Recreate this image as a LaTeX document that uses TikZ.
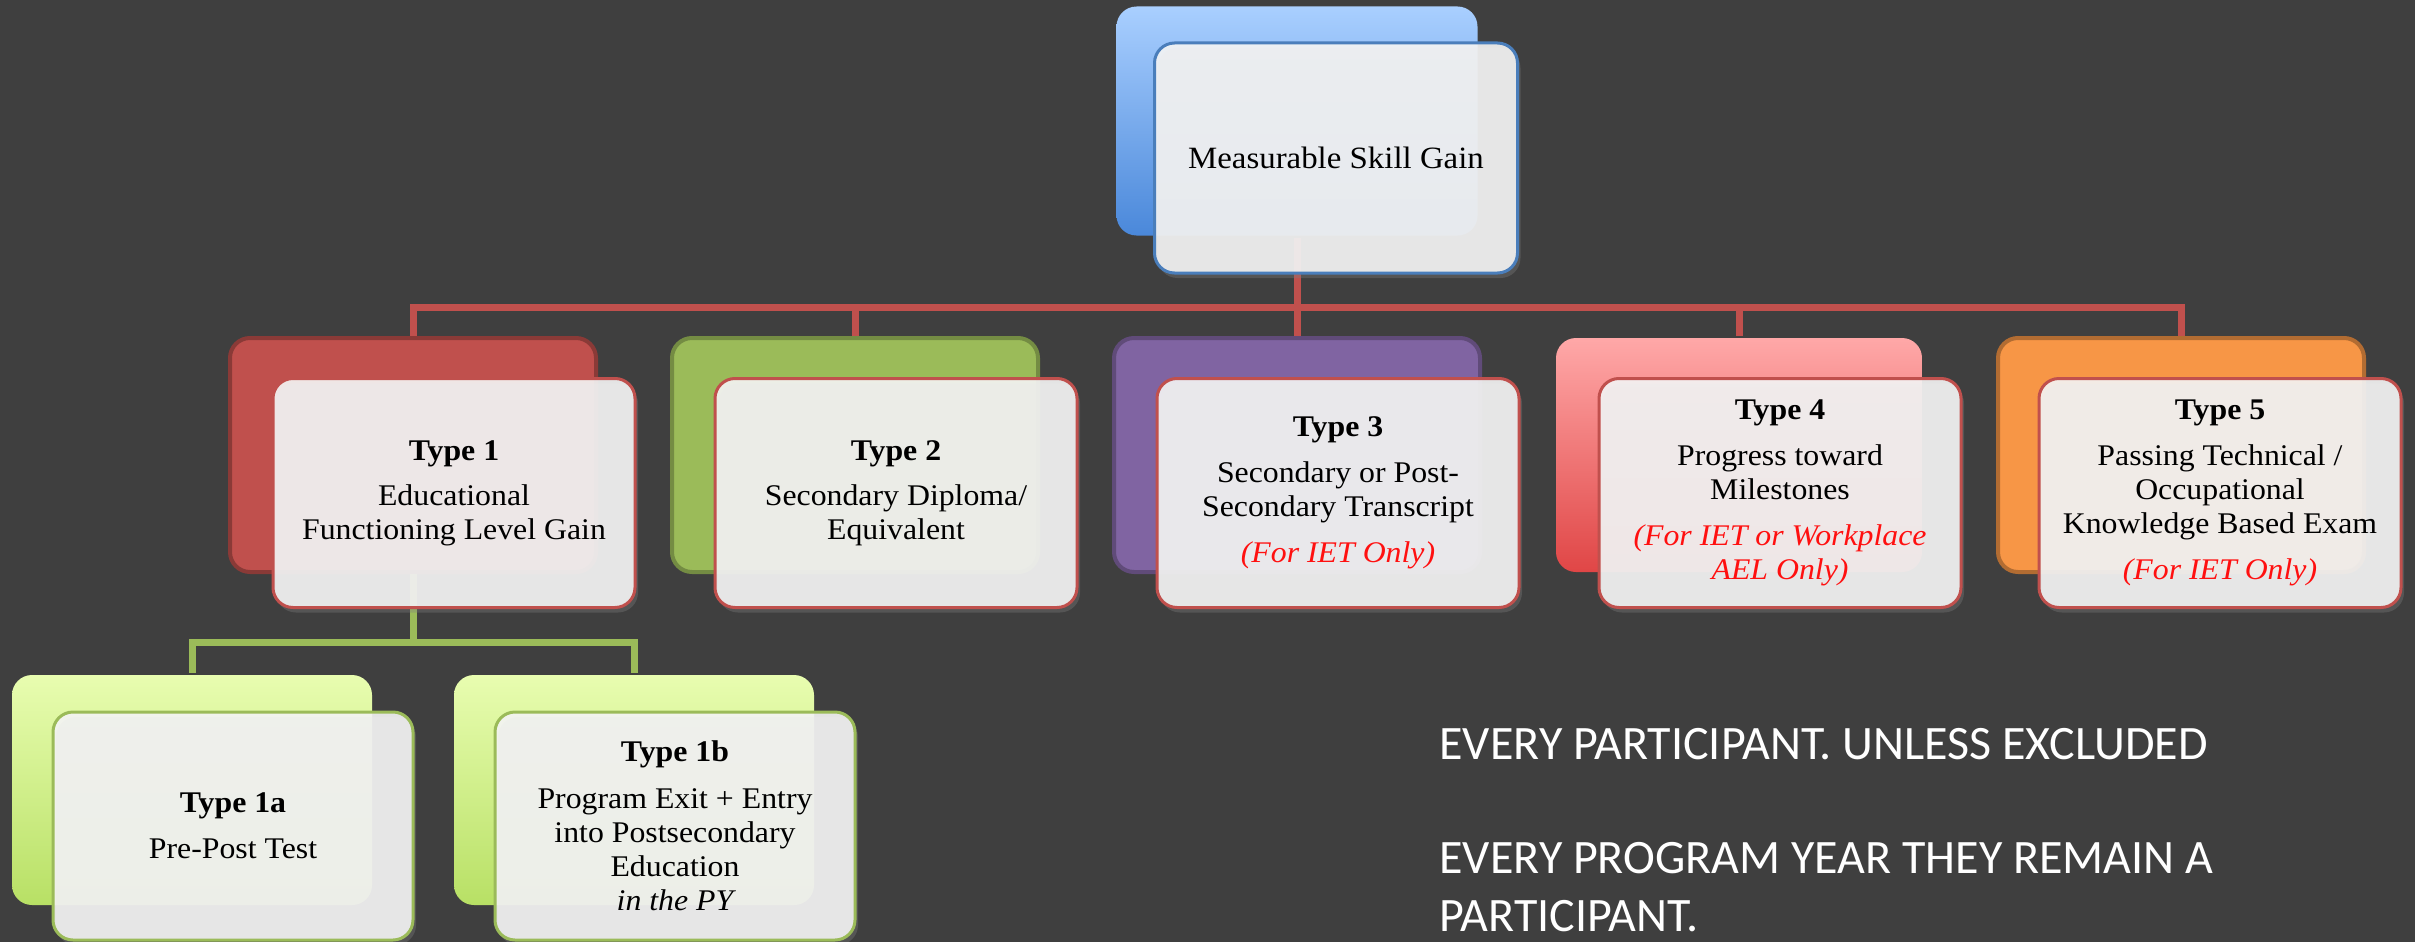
\documentclass[tikz,border=0pt]{standalone}
\usepackage{fontspec}
\setmainfont[FakeStretch=1.06]{Liberation Serif}
\newfontfamily\calib{Carlito}
\usetikzlibrary{shadows}
\definecolor{bg}{HTML}{3F3F3F}
\definecolor{lred}{HTML}{C0504D}
\definecolor{lgreen}{HTML}{9BBB59}
\definecolor{frontfill}{HTML}{F3F3F3}
\definecolor{msgblue}{HTML}{4A7EBB}
\definecolor{notered}{HTML}{FF1010}
\definecolor{t1col}{HTML}{C0504D}
\definecolor{t2col}{HTML}{9BBB59}
\definecolor{t3col}{HTML}{8064A2}
\definecolor{t5col}{HTML}{F79646}
\definecolor{bluetop}{HTML}{A9CFFF}
\definecolor{bluebot}{HTML}{4A88DA}
\definecolor{pinktop}{HTML}{FFA8A8}
\definecolor{pinkbot}{HTML}{E04646}
\definecolor{limetop}{HTML}{E8FDB0}
\definecolor{limebot}{HTML}{B8E065}
\begin{document}
\begin{tikzpicture}[x=1pt,y=-1pt,
  backbox/.style={rectangle, rounded corners=20pt, minimum width=366pt, minimum height=234pt, line width=4pt, inner sep=0pt},
  bevelback/.style={backbox, draw=none},
  frontbox/.style={rectangle, rounded corners=20pt, minimum width=362pt, minimum height=229pt, line width=3pt,
     draw=#1, fill=frontfill, fill opacity=0.92, text opacity=1, align=center, inner sep=4pt,
     font={\fontsize{30}{34}\selectfont},
     drop shadow={opacity=0.35, fill opacity=0.35, shadow xshift=3pt, shadow yshift=-5pt}},
  frontbox/.default=lred,
  redline/.style={draw=lred, line width=7pt},
  greenline/.style={draw=lgreen, line width=7pt},
  bigtext/.style={anchor=base west, text=white, font={\calib\fontsize{48}{58}\selectfont}}
]
\useasboundingbox (0,0) rectangle (2415,942);
\fill[bg] (0,0) rectangle (2415,942);

% back boxes
\node[bevelback, minimum width=361pt, minimum height=229pt, top color=bluetop, bottom color=bluebot] (msgb) at (1297,121) {};
\node[backbox, draw=t1col!72!black, fill=t1col] (t1b) at (413,455) {};
\node[backbox, draw=t2col!75!black, fill=t2col] (t2b) at (855,455) {};
\node[backbox, draw=t3col!75!black, fill=t3col] (t3b) at (1297,455) {};
\node[bevelback, top color=pinktop, bottom color=pinkbot] (t4b) at (1739,455) {};
\node[backbox, draw=t5col!72!black, fill=t5col] (t5b) at (2181,455) {};
\node[bevelback, minimum width=360pt, minimum height=230pt, top color=limetop, bottom color=limebot] (t1ab) at (192,790) {};
\node[bevelback, minimum width=360pt, minimum height=230pt, top color=limetop, bottom color=limebot] (t1bb) at (634,790) {};

% connectors
\coordinate (bus) at (0,307);
\coordinate (gbus) at (0,642);
\draw[redline] (msgb.south) -- (msgb.south |- bus);
\draw[redline] (t1b.north) -- (t1b.north |- bus) -- (t5b.north |- bus) -- (t5b.north);
\draw[redline] (t2b.north) -- (t2b.north |- bus);
\draw[redline] (t3b.north) -- (t3b.north |- bus);
\draw[redline] (t4b.north) -- (t4b.north |- bus);
\draw[greenline] (t1b.south) -- (t1b.south |- gbus);
\draw[greenline] (t1ab.north) -- (t1ab.north |- gbus) -- (t1bb.north |- gbus) -- (t1bb.north);

% front boxes
\node[frontbox=msgblue, minimum width=363pt, minimum height=230pt, font={\fontsize{31}{36}\selectfont}] (msg) at (1336,158) {Measurable Skill Gain};
\node[frontbox] (t1) at (454,493) {{\bfseries Type 1}\\[11pt]Educational\\Functioning Level Gain};
\node[frontbox] (t2) at (896,493) {{\bfseries Type 2}\\[11pt]Secondary Diploma/\\Equivalent};
\node[frontbox] (t3) at (1338,493) {{\bfseries Type 3}\\[12pt]Secondary or Post-\\Secondary Transcript\\[12pt]{\color{notered}\itshape (For IET Only)}};
\node[frontbox] (t4) at (1780,493) {{\bfseries Type 4}\\[12pt]Progress toward\\Milestones\\[12pt]{\color{notered}\itshape (For IET or Workplace}\\{\color{notered}\itshape AEL Only)}};
\node[frontbox] (t5) at (2220,493) {{\bfseries Type 5}\\[12pt]Passing Technical /\\Occupational\\Knowledge Based\ Exam\\[12pt]{\color{notered}\itshape (For IET Only)}};
\node[frontbox=lgreen, minimum width=360pt, minimum height=228pt] (t1a) at (233,826) {{\bfseries Type 1a}\\[12pt]Pre-Post Test};
\node[frontbox=lgreen, minimum width=360pt, minimum height=228pt] (t1bx) at (675,826) {{\bfseries Type 1b}\\[13pt]Program Exit + Entry\\into Postsecondary\\Education\\{\itshape in the PY}};

% side text
\node[bigtext] (l1) at (1436,759) {EVERY PARTICIPANT. UNLESS EXCLUDED};
\node[bigtext] (l2) at (1436,873) {EVERY PROGRAM YEAR THEY REMAIN A};
\node[bigtext] (l3) at (1436,931) {PARTICIPANT.};
\end{tikzpicture}
\end{document}
